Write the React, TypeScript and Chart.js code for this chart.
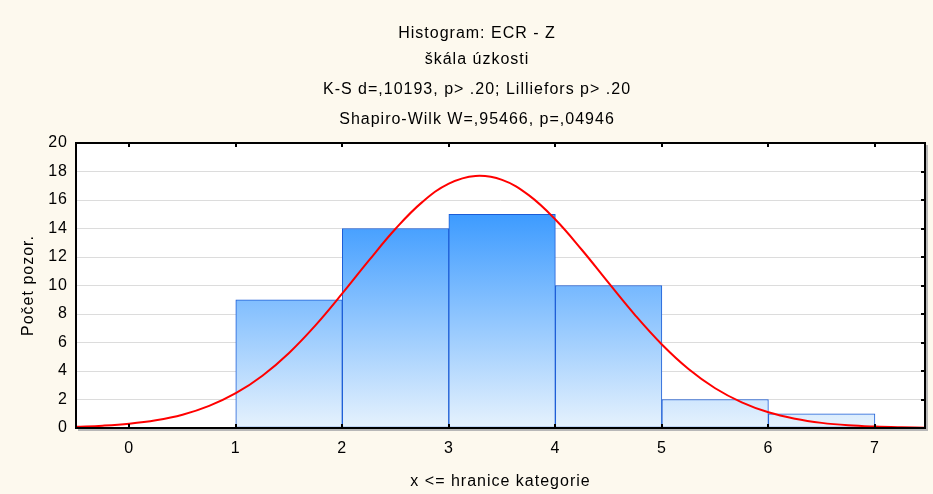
import React, { useEffect, useRef } from "react";
import { Chart, registerables } from "chart.js";

Chart.register(...registerables);

// ---- data ----
const titleLines = ["Histogram: ECR - Z", "škála úzkosti"];
const statLines = ["K-S d=,10193, p> .20; Lilliefors p> .20", "Shapiro-Wilk W=,95466, p=,04946"];
const xAxisTitle = "x <= hranice kategorie";
const yAxisTitle = "Počet pozor.";

const binUpper = [1, 2, 3, 4, 5, 6, 7];
const binCounts = [0, 9, 14, 15, 10, 2, 1];

const curveX = [-0.5, -0.25, 0, 0.25, 0.5, 0.75, 1, 1.25, 1.5, 1.75, 2, 2.25, 2.5, 2.75, 3, 3.25, 3.5, 3.75, 4, 4.25, 4.5, 4.75, 5, 5.25, 5.5, 5.75, 6, 6.25, 6.5, 6.75, 7, 7.25, 7.5];
const curveY = [0.08, 0.16, 0.3, 0.54, 0.93, 1.55, 2.44, 3.67, 5.27, 7.22, 9.44, 11.76, 13.98, 15.85, 17.15, 17.69, 17.41, 16.34, 14.63, 12.49, 10.18, 7.91, 5.86, 4.14, 2.79, 1.8, 1.1, 0.65, 0.36, 0.19, 0.1, 0.05, 0.02];

const xTickValues = [0, 1, 2, 3, 4, 5, 6, 7];
const yTickValues = [0, 2, 4, 6, 8, 10, 12, 14, 16, 18, 20];

const FONT = '"Liberation Sans", Arial, sans-serif';
const BG = "#fdf9ee";

const framePlugin = {
  id: "framePlugin",
  beforeDraw(chart: any) {
    const { ctx, chartArea: a, width, height } = chart;
    ctx.letterSpacing = "1px";
    ctx.save();
    ctx.fillStyle = BG;
    ctx.fillRect(0, 0, width, height);
    ctx.fillStyle = "#ffffff";
    ctx.fillRect(a.left, a.top, a.right - a.left, a.bottom - a.top);
    ctx.restore();
  },
  afterDraw(chart: any) {
    const { ctx, chartArea: a, scales } = chart;
    ctx.save();
    // shadow
    ctx.fillStyle = "#b8b8b8";
    ctx.fillRect(a.right + 1, a.top + 2, 2, a.bottom - a.top + 1);
    ctx.fillRect(a.left + 2, a.bottom + 1, a.right - a.left + 1, 2);
    // frame
    ctx.strokeStyle = "#000000";
    ctx.lineWidth = 2;
    ctx.strokeRect(a.left, a.top, a.right - a.left, a.bottom - a.top);
    // inner ticks
    ctx.lineWidth = 2;
    ctx.beginPath();
    for (const v of xTickValues) {
      const px = Math.round(scales.x.getPixelForValue(v));
      ctx.moveTo(px, a.top);
      ctx.lineTo(px, a.top + 4);
      ctx.moveTo(px, a.bottom);
      ctx.lineTo(px, a.bottom - 4);
    }
    for (const v of yTickValues) {
      const py = Math.round(scales.y.getPixelForValue(v));
      ctx.moveTo(a.right, py);
      ctx.lineTo(a.right - 4, py);
    }
    ctx.stroke();

    // texts
    ctx.fillStyle = "#000000";
    ctx.font = `16px ${FONT}`;
    ctx.textAlign = "center";
    ctx.textBaseline = "middle";
    const cx = 477;
    ctx.fillText(titleLines[0], cx, 34);
    ctx.fillText(titleLines[1], cx, 60);
    ctx.fillText(statLines[0], cx, 90);
    ctx.fillText(statLines[1], cx, 120);
    ctx.fillText(xAxisTitle, (a.left + a.right) / 2, 482);
    ctx.translate(29, (a.top + a.bottom) / 2);
    ctx.rotate(-Math.PI / 2);
    ctx.fillText(yAxisTitle, 0, 0);
    ctx.restore();
  },
};

export default function App() {
  const ref = useRef<HTMLCanvasElement | null>(null);

  useEffect(() => {
    if (!ref.current) return;
    const barData = binUpper.map((u, i) => ({ x: u - 0.5, y: binCounts[i] }));
    const lineData = curveX.map((x, i) => ({ x, y: curveY[i] }));

    const chart = new Chart(ref.current, {
      type: "bar",
      data: {
        datasets: [
          {
            type: "line",
            data: lineData,
            borderColor: "#ff0000",
            borderWidth: 2,
            pointRadius: 0,
            tension: 0.4,
            fill: false,
            order: 0,
          } as any,
          {
            type: "bar",
            data: barData,
            backgroundColor: (c: any) => {
              const ch = c.chart;
              const a = ch.chartArea;
              if (!a) return "#7ab8f5";
              const yTop = ch.scales.y.getPixelForValue(15);
              const g = ch.ctx.createLinearGradient(0, yTop, 0, a.bottom);
              g.addColorStop(0, "#3d9bff");
              g.addColorStop(1, "#e6f2fd");
              return g;
            },
            borderColor: "#1c5dd6",
            borderWidth: 1,
            borderSkipped: false,
            barPercentage: 1,
            categoryPercentage: 1,
            order: 1,
          } as any,
        ],
      },
      options: {
        animation: false,
        responsive: false,
        devicePixelRatio: 1,
        layout: { padding: { top: 143, left: 0, right: 8, bottom: 0 } },
        plugins: {
          legend: { display: false },
          tooltip: { enabled: false },
          title: { display: false },
        },
        scales: {
          x: {
            type: "linear",
            min: -0.5,
            max: 7.47,
            offset: false,
            grid: { display: false, drawTicks: false },
            border: { display: false },
            afterBuildTicks: (s: any) => {
              s.ticks = xTickValues.map((v) => ({ value: v }));
            },
            afterFit: (s: any) => {
              s.height = 66;
            },
            ticks: {
              autoSkip: false,
              maxRotation: 0,
              padding: 11,
              color: "#000000",
              font: { family: FONT, size: 16 },
            },
          },
          y: {
            type: "linear",
            min: 0,
            max: 20,
            grid: { display: true, color: "#dcdcdc", lineWidth: 1, drawTicks: false },
            border: { display: false },
            afterBuildTicks: (s: any) => {
              s.ticks = yTickValues.map((v) => ({ value: v }));
            },
            afterFit: (s: any) => {
              s.width = 76;
            },
            ticks: {
              padding: 8,
              color: "#000000",
              font: { family: FONT, size: 16 },
            },
          },
        },
      },
      plugins: [framePlugin],
    });
    return () => chart.destroy();
  }, []);

  return (
    <div style={{ position: "absolute", left: 0, top: 0, width: 933, height: 494 }}>
      <canvas ref={ref} width={933} height={494} style={{ display: "block" }} />
    </div>
  );
}
